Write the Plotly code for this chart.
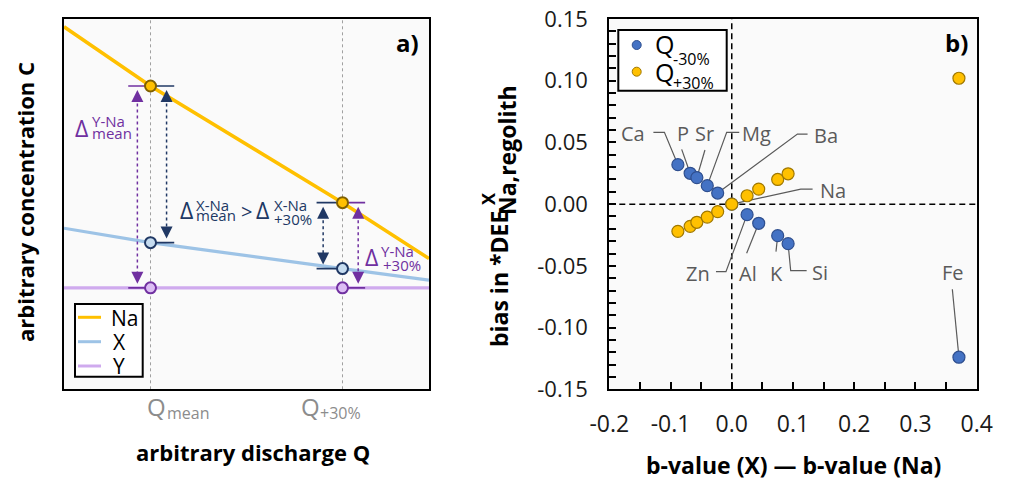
import plotly.graph_objects as go

W, H = 1009, 480          # reference picture size
OFF = 8                   # page body margin of the browser
WF, HF = W - OFF, H - OFF  # figure size so that it fills the window exactly
FONT = "Open Sans"

# ---------------- panel a (schematic) data ----------------
q_positions = [2.37, 7.63]                 # Q_mean, Q_+30%
q_sub_labels = ["mean", "+30%"]
line_q = [0.0, 2.37, 7.63, 10.0]
conc_na = [9.79, 8.19, 5.04, 3.53]
conc_x = [4.35, 3.96, 3.26, 2.95]
conc_y = [2.74, 2.74, 2.74, 2.74]
series_a = ["Na", "X", "Y"]

# ---------------- panel b data ----------------
elements = ["Ca", "P", "Sr", "Mg", "Ba", "Na", "Zn", "Al", "K", "Si", "Fe"]
b_diff = [-0.088, -0.068, -0.057, -0.040, -0.023, 0.0, 0.025, 0.044, 0.075, 0.092, 0.371]
bias_q_minus30 = [0.032, 0.025, 0.0215, 0.015, 0.009, 0.0, -0.0085, -0.0155, -0.0255, -0.032, -0.124]
bias_q_plus30 = [-0.022, -0.018, -0.0147, -0.0105, -0.006, 0.0, 0.0068, 0.0122, 0.020, 0.0246, 0.102]
x_tick_vals = [-0.2, -0.1, 0.0, 0.1, 0.2, 0.3, 0.4]
x_tick_text = ["-0.2", "-0.1", "0.0", "0.1", "0.2", "0.3", "0.4"]
y_tick_vals = [-0.15, -0.10, -0.05, 0.0, 0.05, 0.10, 0.15]
y_tick_text = ["-0.15", "-0.10", "-0.05", "0.00", "0.05", "0.10", "0.15"]

# ---------------- styles ----------------
C_NA, C_X, C_Y = "#ffc000", "#9dc3e6", "#cfaaee"
C_PUR, C_NAVY = "#7030a0", "#203864"
C_BLUE, C_BLUE_E = "#4472c4", "#2f4f8f"
C_OR, C_OR_E = "#ffc000", "#a07800"
C_LAB = "#5a5a5a"

# label placement (text position, leader-line bend points) for panel b
label_layout = {
    "Ca": ((-0.161, 0.0574), [(-0.128, 0.0582), (-0.110, 0.0582)]),
    "P": ((-0.080, 0.0574), [(-0.0818, 0.0444)]),
    "Sr": ((-0.0438, 0.0574), [(-0.0438, 0.0439)]),
    "Mg": ((0.0407, 0.0574), [(0.0122, 0.0582), (-0.0083, 0.0582)]),
    "Ba": ((0.1541, 0.0554), [(0.1238, 0.0568), (0.1072, 0.0568)]),
    "Na": ((0.1652, 0.0114), [(0.132, 0.0122), (0.1127, 0.0122)]),
    "Zn": ((-0.0547, -0.056), [(-0.0258, -0.0547), (-0.0095, -0.0547)]),
    "Al": ((0.027, -0.056), [(0.0243, -0.0398)]),
    "K": ((0.0733, -0.056), [(0.0722, -0.0385)]),
    "Si": ((0.1448, -0.0556), [(0.1223, -0.0539), (0.0962, -0.0539)]),
    "Fe": ((0.3613, -0.0556), [(0.3602, -0.0689)]),
}


def P(px, py):
    return (px - OFF) / WF, 1 - (py - OFF) / HF


def ann(px, py, text, size, color="#000000", weight="normal", xanchor="center", angle=0, **kw):
    x, y = P(px, py)
    return dict(x=x, y=y, xref="paper", yref="paper", text=text, showarrow=False,
                xanchor=xanchor, yanchor="middle", textangle=angle,
                font=dict(family=FONT, size=size, color=color, weight=weight), **kw)


fig = go.Figure()

# ======== panel a ========
xa, ya = "x", "y"
for q in q_positions:
    fig.add_trace(go.Scatter(x=[q, q], y=[0, 10], mode="lines", xaxis=xa, yaxis=ya,
                             line=dict(color="#a0a0a0", width=1, dash="dot"), hoverinfo="skip"))
for conc, col, w in [(conc_na, C_NA, 3.5), (conc_x, C_X, 3.2), (conc_y, C_Y, 3.2)]:
    fig.add_trace(go.Scatter(x=line_q, y=conc, mode="lines", xaxis=xa, yaxis=ya,
                             line=dict(color=col, width=w), hoverinfo="skip"))

qm, qp = q_positions
na_m, na_p = conc_na[1], conc_na[2]
x_m, x_p = conc_x[1], conc_x[2]
y_m, y_p = conc_y[1], conc_y[2]

# caps
caps = [
    (1.76, qm, na_m, C_PUR), (1.76, qm, y_m, C_PUR),
    (qm, 3.02, na_m, C_NAVY), (qm, 3.02, x_m, C_NAVY),
    (6.92, qp, na_p, C_NAVY), (6.92, qp, x_p, C_NAVY),
    (qp, 8.25, na_p, C_PUR), (qp, 8.25, y_p, C_PUR),
]
for x0, x1, yv, col in caps:
    fig.add_trace(go.Scatter(x=[x0, x1], y=[yv, yv], mode="lines", xaxis=xa, yaxis=ya,
                             line=dict(color=col, width=1.6), hoverinfo="skip"))

# dashed double arrows
gap = 0.11
arrows = [(2.01, na_m, y_m, C_PUR), (2.81, na_m, x_m, C_NAVY),
          (7.10, na_p, x_p, C_NAVY), (8.06, na_p, y_p, C_PUR)]
for ax_, top, bot, col in arrows:
    fig.add_trace(go.Scatter(x=[ax_, ax_], y=[top - gap - 0.2, bot + gap + 0.2], mode="lines",
                             xaxis=xa, yaxis=ya, line=dict(color=col, width=1.5, dash="3px,3px"),
                             hoverinfo="skip"))
    fig.add_trace(go.Scatter(x=[ax_, ax_], y=[top - gap, bot + gap], mode="markers",
                             xaxis=xa, yaxis=ya,
                             marker=dict(symbol=["arrow-up", "arrow-down"], size=12, color=col,
                                         line=dict(width=0)), hoverinfo="skip"))

# markers
for conc, fill, edge in [(conc_na, C_NA, "#7f6000"), (conc_x, "#c6dcf0", C_NAVY),
                         (conc_y, "#dcbdf4", C_PUR)]:
    fig.add_trace(go.Scatter(x=line_q[1:3], y=conc[1:3], mode="markers", xaxis=xa, yaxis=ya,
                             marker=dict(size=11, color=fill, line=dict(color=edge, width=2)),
                             hoverinfo="skip"))

# ======== panel b ========
xb, yb = "x2", "y2"
fig.add_trace(go.Scatter(x=[0, 0], y=[-0.15, 0.15], mode="lines", xaxis=xb, yaxis=yb,
                         line=dict(color="black", width=1.5, dash="6px,4px"), hoverinfo="skip"))
fig.add_trace(go.Scatter(x=[-0.2, 0.4], y=[0, 0], mode="lines", xaxis=xb, yaxis=yb,
                         line=dict(color="black", width=1.5, dash="6px,4px"), hoverinfo="skip"))
for i, el in enumerate(elements):
    (tx, ty), bends = label_layout[el]
    xs = [p[0] for p in bends] + [b_diff[i]]
    ys = [p[1] for p in bends] + [bias_q_minus30[i]]
    fig.add_trace(go.Scatter(x=xs, y=ys, mode="lines", xaxis=xb, yaxis=yb,
                             line=dict(color=C_LAB, width=1.2), hoverinfo="skip"))
fig.add_trace(go.Scatter(x=b_diff, y=bias_q_minus30, mode="markers", xaxis=xb, yaxis=yb,
                         marker=dict(size=12, color=C_BLUE, line=dict(color=C_BLUE_E, width=1.2))))
fig.add_trace(go.Scatter(x=b_diff, y=bias_q_plus30, mode="markers", xaxis=xb, yaxis=yb,
                         marker=dict(size=12, color=C_OR, line=dict(color=C_OR_E, width=1.2))))

annotations = []
for el in elements:
    (tx, ty), _ = label_layout[el]
    annotations.append(dict(x=tx, y=ty, xref=xb, yref=yb, text=el, showarrow=False,
                            xanchor="center", yanchor="middle",
                            font=dict(family=FONT, size=20, color=C_LAB)))

# ---- panel a texts ----
annotations += [
    ann(407.5, 42.5, "a)", 24, weight="bold"),
    ann(25, 202, "arbitrary concentration C", 22, weight="bold", angle=-90),
    ann(253, 452, "arbitrary discharge Q", 22, weight="bold"),
    ann(156, 406, "Q", 24, color="#8c8c8c"),
    ann(165, 413, q_sub_labels[0], 16, color="#8c8c8c", xanchor="left"),
    ann(310, 406, "Q", 24, color="#8c8c8c"),
    ann(318, 412.5, q_sub_labels[1], 16, color="#8c8c8c", xanchor="left"),
    # Delta Y-Na mean
    ann(81.7, 128, "Δ", 23, color=C_PUR),
    ann(89.5, 121.5, "Y-Na", 15, color=C_PUR, xanchor="left"),
    ann(89.5, 133, "mean", 15, color=C_PUR, xanchor="left"),
    # Delta X-Na mean > Delta X-Na +30%
    ann(186.7, 210, "Δ", 23, color=C_NAVY),
    ann(194, 204.5, "X-Na", 15, color=C_NAVY, xanchor="left"),
    ann(194, 215, "mean", 15, color=C_NAVY, xanchor="left"),
    ann(246.7, 212, "&gt;", 20, color=C_NAVY),
    ann(262.5, 210, "Δ", 23, color=C_NAVY),
    ann(272, 204.5, "X-Na", 15, color=C_NAVY, xanchor="left"),
    ann(272, 219, "+30%", 15, color=C_NAVY, xanchor="left"),
    # Delta Y-Na +30%
    ann(371.7, 256.7, "Δ", 23, color=C_PUR),
    ann(379, 251, "Y-Na", 15, color=C_PUR, xanchor="left"),
    ann(380.5, 265, "+30%", 15, color=C_PUR, xanchor="left"),
    # legend a
    ann(109, 317.5, series_a[0], 21, xanchor="left"),
    ann(111, 341.7, series_a[1], 21, xanchor="left"),
    ann(111, 366, series_a[2], 21, xanchor="left"),
]

# ---- panel b texts ----
annotations += [
    ann(956.7, 42.5, "b)", 24, weight="bold"),
    ann(793, 465, "b-value (X) — b-value (Na)", 23, weight="bold"),
    ann(499, 279, "bias in *DEE", 23, weight="bold", angle=-90),
    ann(488, 199, "X", 18, weight="bold", angle=-90),
    ann(507, 150, "Na,regolith", 23, weight="bold", angle=-90),
    ann(664, 44, "Q", 25),
    ann(671, 59, "-30%", 16, xanchor="left"),
    ann(664, 71.7, "Q", 25),
    ann(671, 83.3, "+30%", 16, xanchor="left"),
]

shapes = []
# legend a
x0, y1 = P(75, 304)
x1, y0 = P(142.7, 376.7)
shapes.append(dict(type="rect", xref="paper", yref="paper", x0=x0, x1=x1, y0=y0, y1=y1,
                   line=dict(color="black", width=2), fillcolor="white", layer="above"))
for py, col in [(317.3, C_NA), (341.7, C_X), (366, C_Y)]:
    a0, b0 = P(78, py)
    a1, _ = P(101, py)
    shapes.append(dict(type="line", xref="paper", yref="paper", x0=a0, x1=a1, y0=b0, y1=b0,
                       line=dict(color=col, width=3), layer="above"))
# legend b
x0, y1 = P(618.3, 30)
x1, y0 = P(726.7, 90.7)
shapes.append(dict(type="rect", xref="paper", yref="paper", x0=x0, x1=x1, y0=y0, y1=y1,
                   line=dict(color="black", width=2), fillcolor="white", layer="above"))
for py, fill, edge in [(45, C_BLUE, C_BLUE_E), (71.7, C_OR, C_OR_E)]:
    cx, cy = P(636.7, py)
    shapes.append(dict(type="circle", xref="paper", yref="paper", xsizemode="pixel",
                       ysizemode="pixel", xanchor=cx, yanchor=cy, x0=-4.5, x1=4.5, y0=-4.5, y1=4.5,
                       fillcolor=fill, line=dict(color=edge, width=1), layer="above"))

ax0, _ = P(64, 0)
ax1, _ = P(429, 0)
bx0, _ = P(609.3, 0)
bx1, _ = P(976.7, 0)
_, dy0 = P(0, 389.3)
_, dy1 = P(0, 19)
dom_a_x = [ax0, ax1]
dom_b_x = [bx0, bx1]
dom_y = [dy0, dy1]

axis_a = dict(range=[0, 10], showticklabels=False, ticks="", showgrid=False, zeroline=False,
              showline=True, mirror=True, linecolor="black", linewidth=2, automargin=False)

fig.update_layout(
    width=WF, height=HF, margin=dict(l=0, r=0, t=0, b=0, pad=0, autoexpand=False),
    paper_bgcolor="white", plot_bgcolor="#fafafa", showlegend=False,
    font=dict(family=FONT),
    xaxis=dict(domain=dom_a_x, anchor="y", **axis_a),
    yaxis=dict(domain=dom_y, anchor="x", **axis_a),
    xaxis2=dict(domain=dom_b_x, anchor="y2", range=[-0.2 - 1e-6, 0.4 + 1e-6], automargin=False,
                tickmode="array", tickvals=x_tick_vals, ticktext=x_tick_text,
                ticks="inside", ticklen=7, tickwidth=2, tickcolor="black",
                minor=dict(ticks="inside", ticklen=7, tickwidth=2, tickcolor="black",
                           tickmode="linear", tick0=0, dtick=0.05),
                showline=True, mirror=True, linecolor="black", linewidth=2,
                showgrid=False, zeroline=False, ticklabelstandoff=13, ticklabeloverflow="allow",
                tickfont=dict(family=FONT, size=23, color="#1a1a1a")),
    yaxis2=dict(domain=dom_y, anchor="x2", range=[-0.15 - 1e-6, 0.15 + 1e-6], automargin=False,
                tickmode="array", tickvals=y_tick_vals, ticktext=y_tick_text,
                ticks="inside", ticklen=7, tickwidth=2, tickcolor="black",
                minor=dict(ticks="inside", ticklen=7, tickwidth=2, tickcolor="black",
                           tickmode="linear", tick0=0, dtick=0.01),
                showline=True, mirror=True, linecolor="black", linewidth=2,
                showgrid=False, zeroline=False, ticklabelstandoff=15, ticklabeloverflow="allow",
                tickfont=dict(family=FONT, size=22, color="#1a1a1a")),
    annotations=annotations, shapes=shapes,
)

fig.write_html("out.html")
